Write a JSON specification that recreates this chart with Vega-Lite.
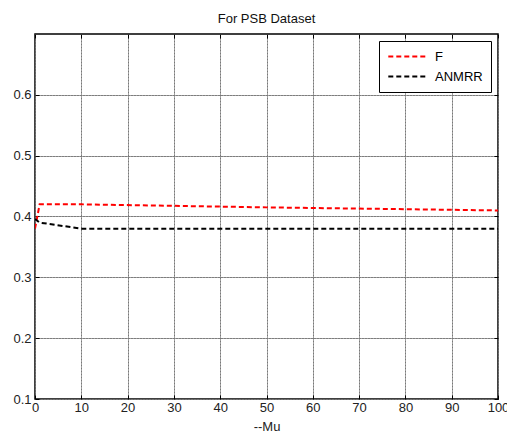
{
  "$schema": "https://vega.github.io/schema/vega-lite/v6.json",
  "width": 463,
  "height": 365,
  "autosize": {"type": "none"},
  "padding": {"left": 35, "top": 34, "right": 9, "bottom": 33},
  "title": {"text": "For PSB Dataset", "font": "Liberation Sans", "fontSize": 13, "fontWeight": "normal", "color": "#111", "offset": 8},
  "config": {
    "view": {"stroke": "#000", "strokeWidth": 1.5},
    "axis": {"labelFont": "Liberation Sans", "labelFontSize": 13, "labelColor": "#222", "titleFont": "Liberation Sans", "titleFontSize": 13, "titleFontWeight": "normal", "titleColor": "#222", "domain": false, "tickColor": "#000", "tickSize": -4, "gridColor": "#777", "gridDash": [2, 1], "gridOpacity": 0.9}
  },
  "data": {"values": [
    {"mu": 0, "v": 0.38, "s": "F"},
    {"mu": 1, "v": 0.42, "s": "F"},
    {"mu": 10, "v": 0.42, "s": "F"},
    {"mu": 50, "v": 0.415, "s": "F"},
    {"mu": 100, "v": 0.41, "s": "F"},
    {"mu": 0, "v": 0.396, "s": "ANMRR"},
    {"mu": 1, "v": 0.39, "s": "ANMRR"},
    {"mu": 10, "v": 0.38, "s": "ANMRR"},
    {"mu": 50, "v": 0.38, "s": "ANMRR"},
    {"mu": 100, "v": 0.38, "s": "ANMRR"}
  ]},
  "layer": [
    {
      "mark": {"type": "line", "opacity": 0},
      "encoding": {
        "x": {"field": "mu", "type": "quantitative", "scale": {"domain": [0, 100], "nice": false}, "axis": {"orient": "top", "values": [0,10,20,30,40,50,60,70,80,90,100], "title": null, "labels": false, "grid": true}},
        "y": {"field": "v", "type": "quantitative", "scale": {"domain": [0.1, 0.7], "nice": false, "zero": false}, "axis": {"orient": "right", "values": [0.1,0.2,0.3,0.4,0.5,0.6], "title": null, "labels": false, "grid": true}}
      }
    },
    {
      "mark": {"type": "line", "strokeWidth": 2, "strokeDash": [5, 3], "clip": true},
      "encoding": {
        "x": {"field": "mu", "type": "quantitative", "scale": {"domain": [0, 100], "nice": false}, "axis": {"orient": "bottom", "values": [0,10,20,30,40,50,60,70,80,90,100], "title": "--Mu", "labelPadding": 6, "titlePadding": 6, "labelOverlap": false, "labelFlush": false, "grid": true}},
        "y": {"field": "v", "type": "quantitative", "scale": {"domain": [0.1, 0.7], "nice": false, "zero": false}, "axis": {"orient": "left", "values": [0.1,0.2,0.3,0.4,0.5,0.6], "title": null, "format": ".1f", "labelPadding": 8, "grid": true}},
        "color": {"field": "s", "type": "nominal", "scale": {"domain": ["F", "ANMRR"], "range": ["#ff0000", "#000000"]},
          "legend": {"title": null, "orient": "top-right", "offset": 7, "strokeColor": "#000", "fillColor": "#fff", "padding": 8, "symbolType": "stroke", "symbolDash": [5, 3], "symbolStrokeWidth": 2, "symbolSize": 1400, "clipHeight": 15, "labelFont": "Liberation Sans", "labelFontSize": 13, "labelColor": "#000", "rowPadding": 5, "labelOffset": 8}}
      }
    }
  ],
  "resolve": {"axis": {"x": "independent", "y": "independent"}}
}
